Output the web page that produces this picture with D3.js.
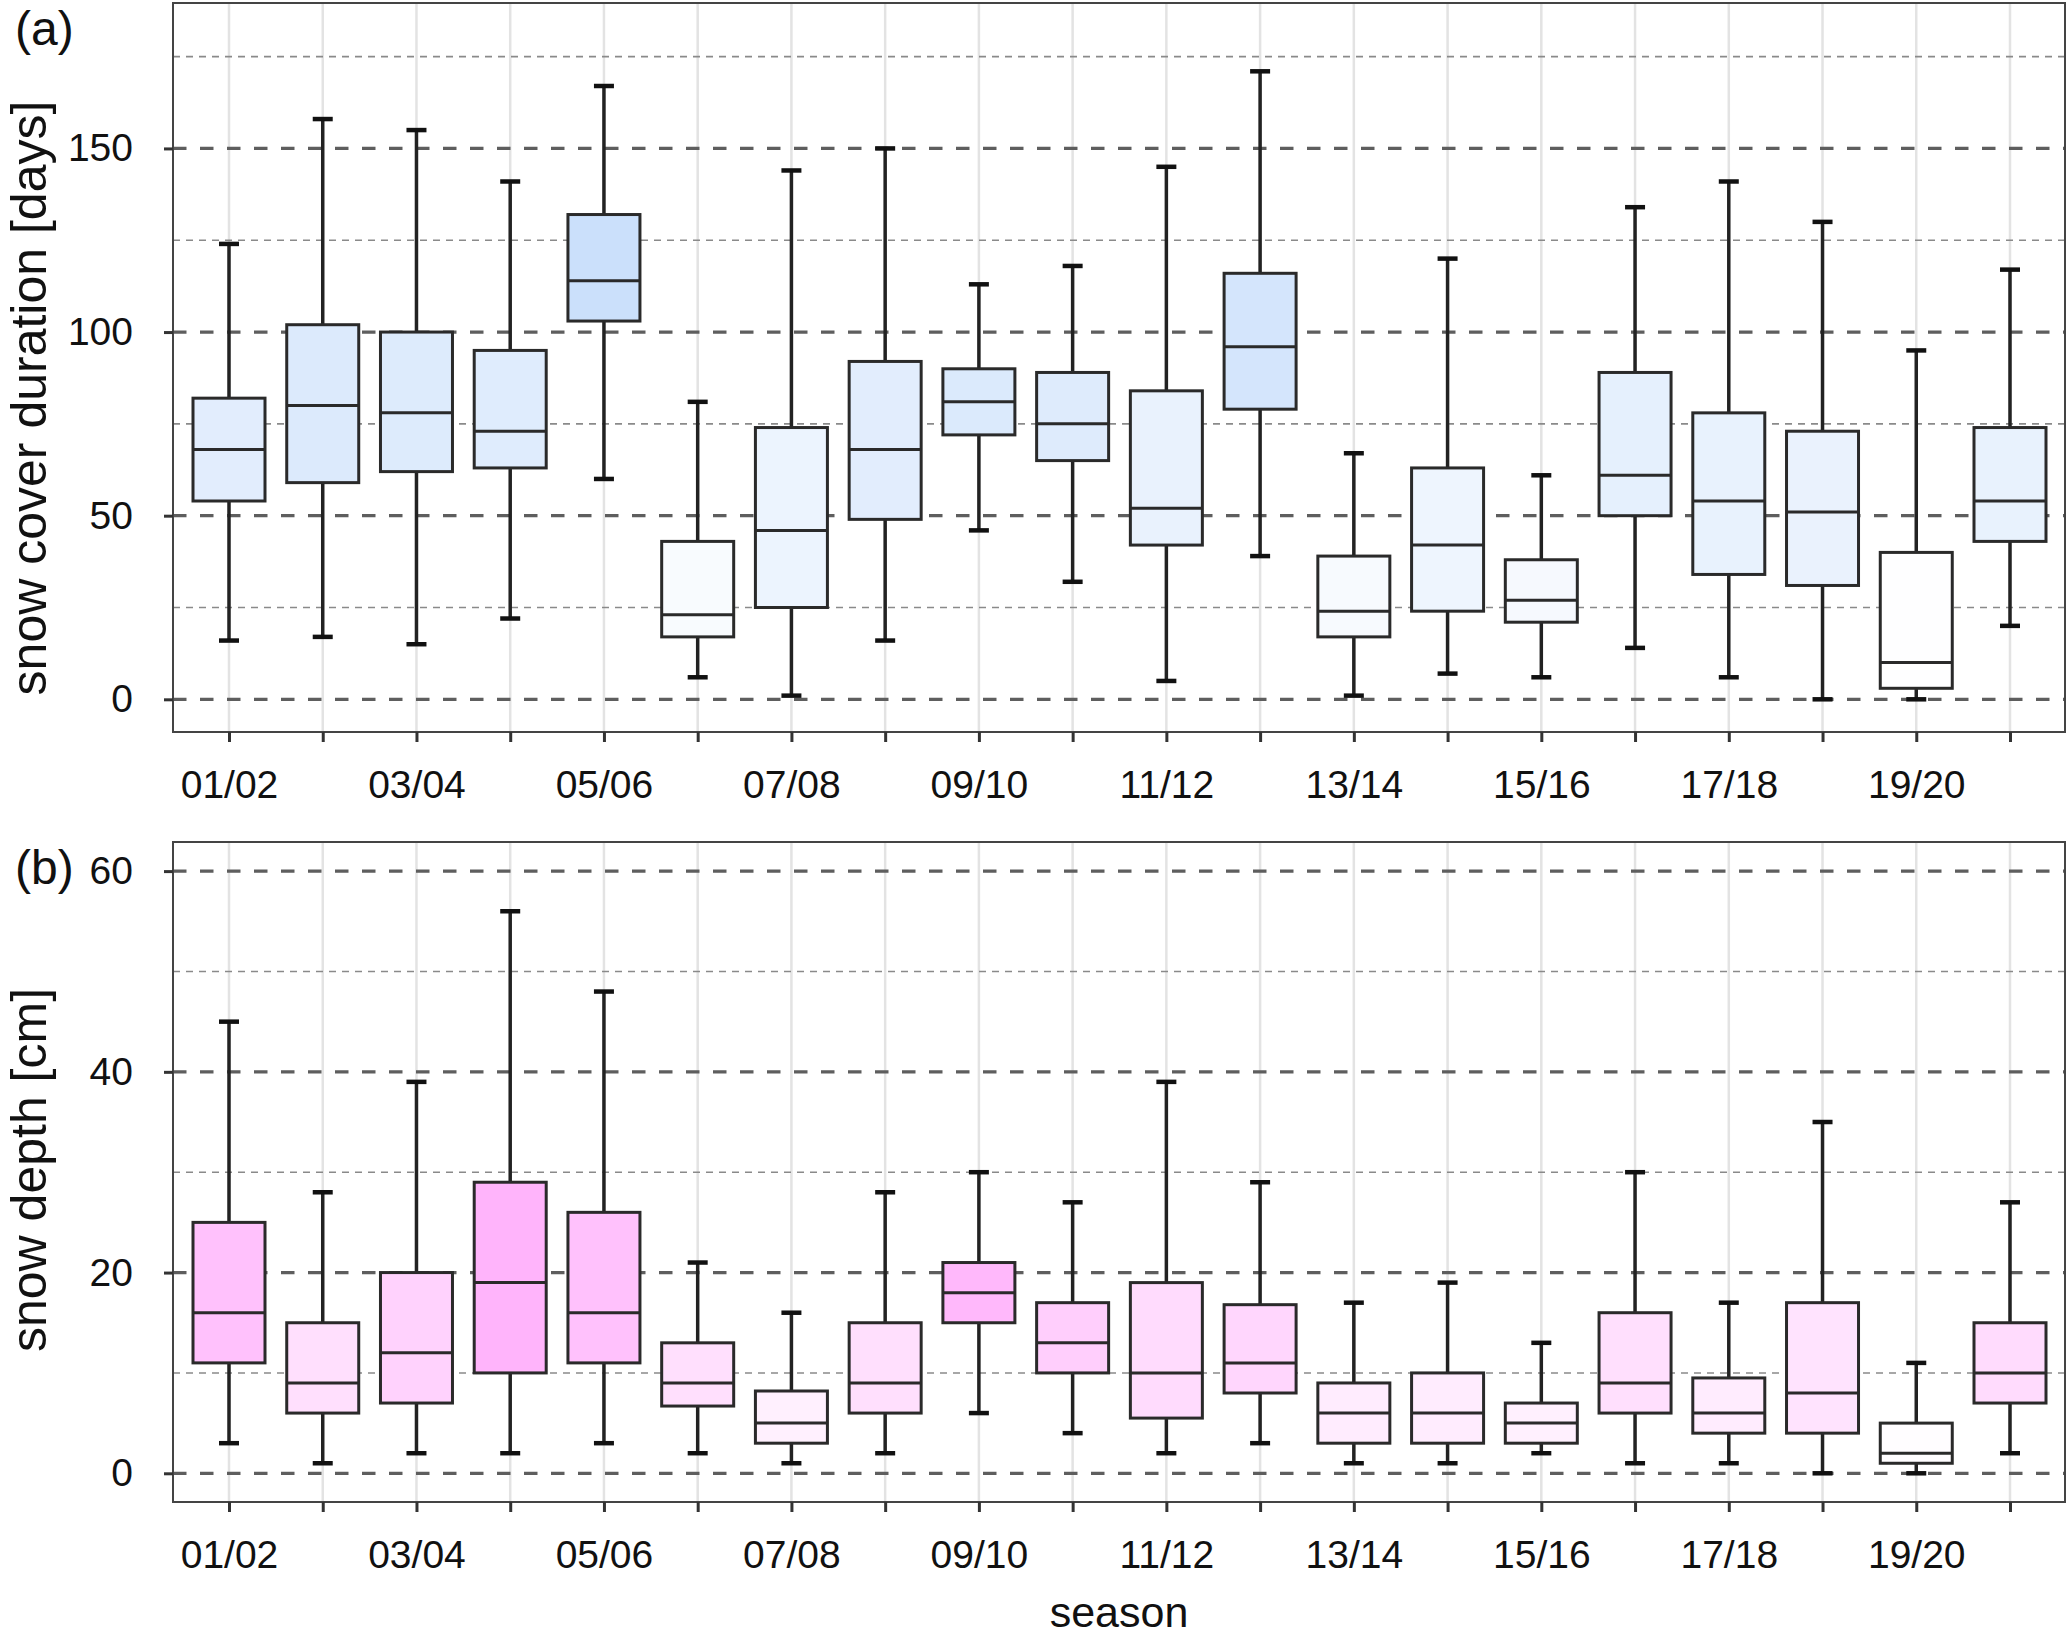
<!DOCTYPE html>
<html>
<head>
<meta charset="utf-8">
<script src="https://cdn.jsdelivr.net/npm/d3@7"></script>
<style>
  html, body { margin: 0; padding: 0; background: #fff; }
  svg { display: block; font-family: "Liberation Sans", Arial, Helvetica, sans-serif; }
</style>
</head>
<body>
<div id="chart"></div>
<script>
// seasons (winter 2001/02 ... 2020/21)
const seasons = ["01/02","02/03","03/04","04/05","05/06","06/07","07/08","08/09","09/10","10/11",
                 "11/12","12/13","13/14","14/15","15/16","16/17","17/18","18/19","19/20","20/21"];
const seasonLabels = ["01/02","03/04","05/06","07/08","09/10","11/12","13/14","15/16","17/18","19/20"];

// (a) snow cover duration [days]
const scdMin = [16, 17, 15, 22, 60,  6,  1, 16, 46, 32,  5, 39,  1,  7,  6, 14,  6,  0,  0, 20];
const scdQ1  = [54, 59, 62, 63, 103, 17, 25, 49, 72, 65, 42, 79, 17, 24, 21, 50, 34, 31,  3, 43];
const scdMed = [68, 80, 78, 73, 114, 23, 46, 68, 81, 75, 52, 96, 24, 42, 27, 61, 54, 51, 10, 54];
const scdQ3  = [82, 102, 100, 95, 132, 43, 74, 92, 90, 89, 84, 116, 39, 63, 38, 89, 78, 73, 40, 74];
const scdMax = [124, 158, 155, 141, 167, 81, 144, 150, 113, 118, 145, 171, 67, 120, 61, 134, 141, 130, 95, 117];
const scdTicks = [0, 50, 100, 150];
const scdMinor = [25, 75, 125, 175];

// (b) snow depth [cm]
const sdMin = [3, 1, 2, 2, 3, 2, 1, 2, 6, 4, 2, 3, 1, 1, 2, 1, 1, 0, 0, 2];
const sdQ1  = [11, 6, 7, 10, 11, 6.7, 3, 6, 15, 10, 5.5, 8, 3, 3, 3, 6, 4, 4, 1, 7];
const sdMed = [16, 9, 12, 19, 16, 9, 5, 9, 18, 13, 10, 11, 6, 6, 5, 9, 6, 8, 2, 10];
const sdQ3  = [25, 15, 20, 29, 26, 13, 8.2, 15, 21, 17, 19, 16.8, 9, 10, 7, 16, 9.5, 17, 5, 15];
const sdMax = [45, 28, 39, 56, 48, 21, 16, 28, 30, 27, 39, 29, 17, 19, 13, 30, 17, 35, 11, 27];
const sdTicks = [0, 20, 40, 60];
const sdMinor = [10, 30, 50];

const W = 2067, H = 1637;
const left = 173, right = 2065;

const svg = d3.select("#chart").append("svg")
  .attr("width", W).attr("height", H)
  .attr("viewBox", [0, 0, W, H]);

const x = d3.scalePoint().domain(seasons).range([229, 2010]);
const boxW = 72;

function drawPanel({ top, bottom, yDomain, mins, q1s, meds, q3s, maxs, ticks, minor, title, titleY, tag, color }) {
  const y = d3.scaleLinear().domain(yDomain).range([bottom, top]);
  const g = svg.append("g");

  // vertical grid
  g.selectAll(".vg").data(seasons).join("line")
    .attr("x1", d => x(d)).attr("x2", d => x(d))
    .attr("y1", top).attr("y2", bottom)
    .attr("stroke", "#e3e3e3").attr("stroke-width", 2.5);

  // minor horizontal grid (dotted)
  g.selectAll(".mg").data(minor).join("line")
    .attr("x1", left).attr("x2", right)
    .attr("y1", d => y(d)).attr("y2", d => y(d))
    .attr("stroke", "#8a8a8a").attr("stroke-width", 1.6)
    .attr("stroke-dasharray", "7,6");

  // major horizontal grid (dashed)
  g.selectAll(".Mg").data(ticks).join("line")
    .attr("x1", left).attr("x2", right)
    .attr("y1", d => y(d)).attr("y2", d => y(d))
    .attr("stroke", "#5e5e5e").attr("stroke-width", 3.2)
    .attr("stroke-dasharray", "13.5,13.5");

  const rows = seasons.map((s, i) => ({ s, min: mins[i], q1: q1s[i], med: meds[i], q3: q3s[i], max: maxs[i] }));
  const box = g.selectAll(".box").data(rows).join("g");

  // whiskers
  box.append("line")
    .attr("x1", d => x(d.s)).attr("x2", d => x(d.s))
    .attr("y1", d => y(d.q3)).attr("y2", d => y(d.max))
    .attr("stroke", "#222").attr("stroke-width", 3.5);
  box.append("line")
    .attr("x1", d => x(d.s)).attr("x2", d => x(d.s))
    .attr("y1", d => y(d.q1)).attr("y2", d => y(d.min))
    .attr("stroke", "#222").attr("stroke-width", 3.5);
  // caps
  for (const k of ["max", "min"]) {
    box.append("line")
      .attr("x1", d => x(d.s) - 10).attr("x2", d => x(d.s) + 10)
      .attr("y1", d => y(d[k])).attr("y2", d => y(d[k]))
      .attr("stroke", "#111").attr("stroke-width", 4.5);
  }
  // box
  box.append("rect")
    .attr("x", d => x(d.s) - boxW / 2).attr("width", boxW)
    .attr("y", d => y(d.q3)).attr("height", d => y(d.q1) - y(d.q3))
    .attr("fill", d => color(d.med))
    .attr("stroke", "#2a2a2a").attr("stroke-width", 3);
  // median
  box.append("line")
    .attr("x1", d => x(d.s) - boxW / 2).attr("x2", d => x(d.s) + boxW / 2)
    .attr("y1", d => y(d.med)).attr("y2", d => y(d.med))
    .attr("stroke", "#2a2a2a").attr("stroke-width", 3);

  // frame
  g.append("rect")
    .attr("x", left).attr("y", top)
    .attr("width", right - left).attr("height", bottom - top)
    .attr("fill", "none").attr("stroke", "#444").attr("stroke-width", 2);

  // y axis
  const ya = g.append("g").attr("transform", `translate(${left},0)`)
    .call(d3.axisLeft(y).tickValues(ticks).tickSize(9).tickPadding(31));
  ya.select(".domain").remove();
  ya.selectAll(".tick line").attr("stroke", "#333").attr("stroke-width", 3);
  ya.selectAll(".tick text").attr("font-size", 39).attr("fill", "#111")
    .attr("font-family", "Liberation Sans, Arial, sans-serif");

  // x axis
  const xa = g.append("g").attr("transform", `translate(0,${bottom})`)
    .call(d3.axisBottom(x).tickSize(10).tickPadding(28)
      .tickFormat(d => seasonLabels.includes(d) ? d : ""));
  xa.select(".domain").remove();
  xa.selectAll(".tick line").attr("stroke", "#333").attr("stroke-width", 3);
  xa.selectAll(".tick text").attr("font-size", 39).attr("fill", "#111")
    .attr("font-family", "Liberation Sans, Arial, sans-serif");

  // y title
  svg.append("text")
    .attr("transform", `translate(46,${titleY}) rotate(-90)`)
    .attr("text-anchor", "middle")
    .attr("font-size", 50).attr("fill", "#111")
    .text(title);

  // panel tag
  svg.append("text")
    .attr("x", 15).attr("y", top + 42)
    .attr("font-size", 48).attr("fill", "#111")
    .text(tag);
}

drawPanel({
  top: 3, bottom: 732, yDomain: [-8.9, 189.6],
  mins: scdMin, q1s: scdQ1, meds: scdMed, q3s: scdQ3, maxs: scdMax,
  ticks: scdTicks, minor: scdMinor,
  title: "snow cover duration [days]", titleY: 398, tag: "(a)",
  color: d3.scaleLinear().domain([8, 114]).range(["#ffffff", "#cbe0fb"]).clamp(true)
});

drawPanel({
  top: 842, bottom: 1502, yDomain: [-2.86, 62.9],
  mins: sdMin, q1s: sdQ1, meds: sdMed, q3s: sdQ3, maxs: sdMax,
  ticks: sdTicks, minor: sdMinor,
  title: "snow depth [cm]", titleY: 1170, tag: "(b)",
  color: d3.scaleLinear().domain([1.5, 19]).range(["#ffffff", "#ffb4fb"]).clamp(true)
});

svg.append("text")
  .attr("x", (left + right) / 2).attr("y", 1627)
  .attr("text-anchor", "middle")
  .attr("font-size", 43).attr("fill", "#111")
  .text("season");
</script>
</body>
</html>
